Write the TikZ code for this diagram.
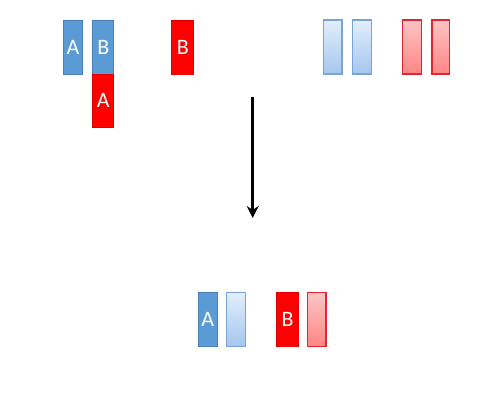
\documentclass[tikz,border=0pt]{standalone}
\usepackage{fontspec}
\setmainfont{Carlito}
\usetikzlibrary{arrows.meta}
\definecolor{bfill}{HTML}{5B9BD5}
\definecolor{bdraw}{HTML}{4A7EB5}
\definecolor{rfill}{HTML}{FF0000}
\definecolor{rdraw}{HTML}{E00000}
\definecolor{lbtop}{HTML}{E2EEFA}
\definecolor{lbbot}{HTML}{A4C6EE}
\definecolor{lbdraw}{HTML}{7AA4D8}
\definecolor{lrtop}{HTML}{FFC4C4}
\definecolor{lrbot}{HTML}{FF8585}
\definecolor{lrdraw}{HTML}{E0262E}
\tikzset{
  chrom/.style={rectangle, inner sep=0pt, minimum width=20pt, minimum height=54pt, line width=0.8pt, text=white, font=\fontsize{22}{22}\selectfont},
  bluebox/.style={chrom, fill=bfill, draw=bdraw},
  redbox/.style={chrom, fill=rfill, draw=rdraw},
  lbluebox/.style={chrom, line width=1.2pt, top color=lbtop, bottom color=lbbot, draw=lbdraw},
  lredbox/.style={chrom, line width=1.2pt, top color=lrtop, bottom color=lrbot, draw=lrdraw},
  arr/.style={line width=3.5pt, -{Stealth[length=12pt, width=12pt]}}
}
\begin{document}
\begin{tikzpicture}[x=1pt, y=-1pt]
\useasboundingbox (0,0) rectangle (500,400);
% top row
\node[bluebox, minimum width=19pt] (tA) at (73,47) {A};
\node[bluebox, minimum width=21pt] (tB) at (103.3,47) {B};
\node[redbox, minimum width=21pt, minimum height=53pt] (tRA) at (103.3,100.5) {A};
\node[redbox, minimum width=22pt] (tRB) at (182.8,47) {B};
\node[lbluebox, minimum width=18.5pt] (lb1) at (332.7,47) {};
\node[lbluebox, minimum width=18.5pt] (lb2) at (362,47) {};
\node[lredbox, minimum width=18.5pt] (lr1) at (412,47) {};
\node[lredbox, minimum width=17.5pt] (lr2) at (440.7,47) {};
% arrow
\coordinate (as) at (252.7,97);
\coordinate (ae) at (252.7,218);
\draw[arr] (as) -- (ae);
% bottom row
\node[bluebox, minimum width=19pt] (bA) at (207.7,319.7) {A};
\node[lbluebox, minimum width=19pt] (blb) at (236.2,319.7) {};
\node[redbox, minimum width=21.5pt] (bRB) at (287.5,319.7) {B};
\node[lredbox, minimum width=18.5pt] (blr) at (316.8,319.7) {};
\end{tikzpicture}
\end{document}
